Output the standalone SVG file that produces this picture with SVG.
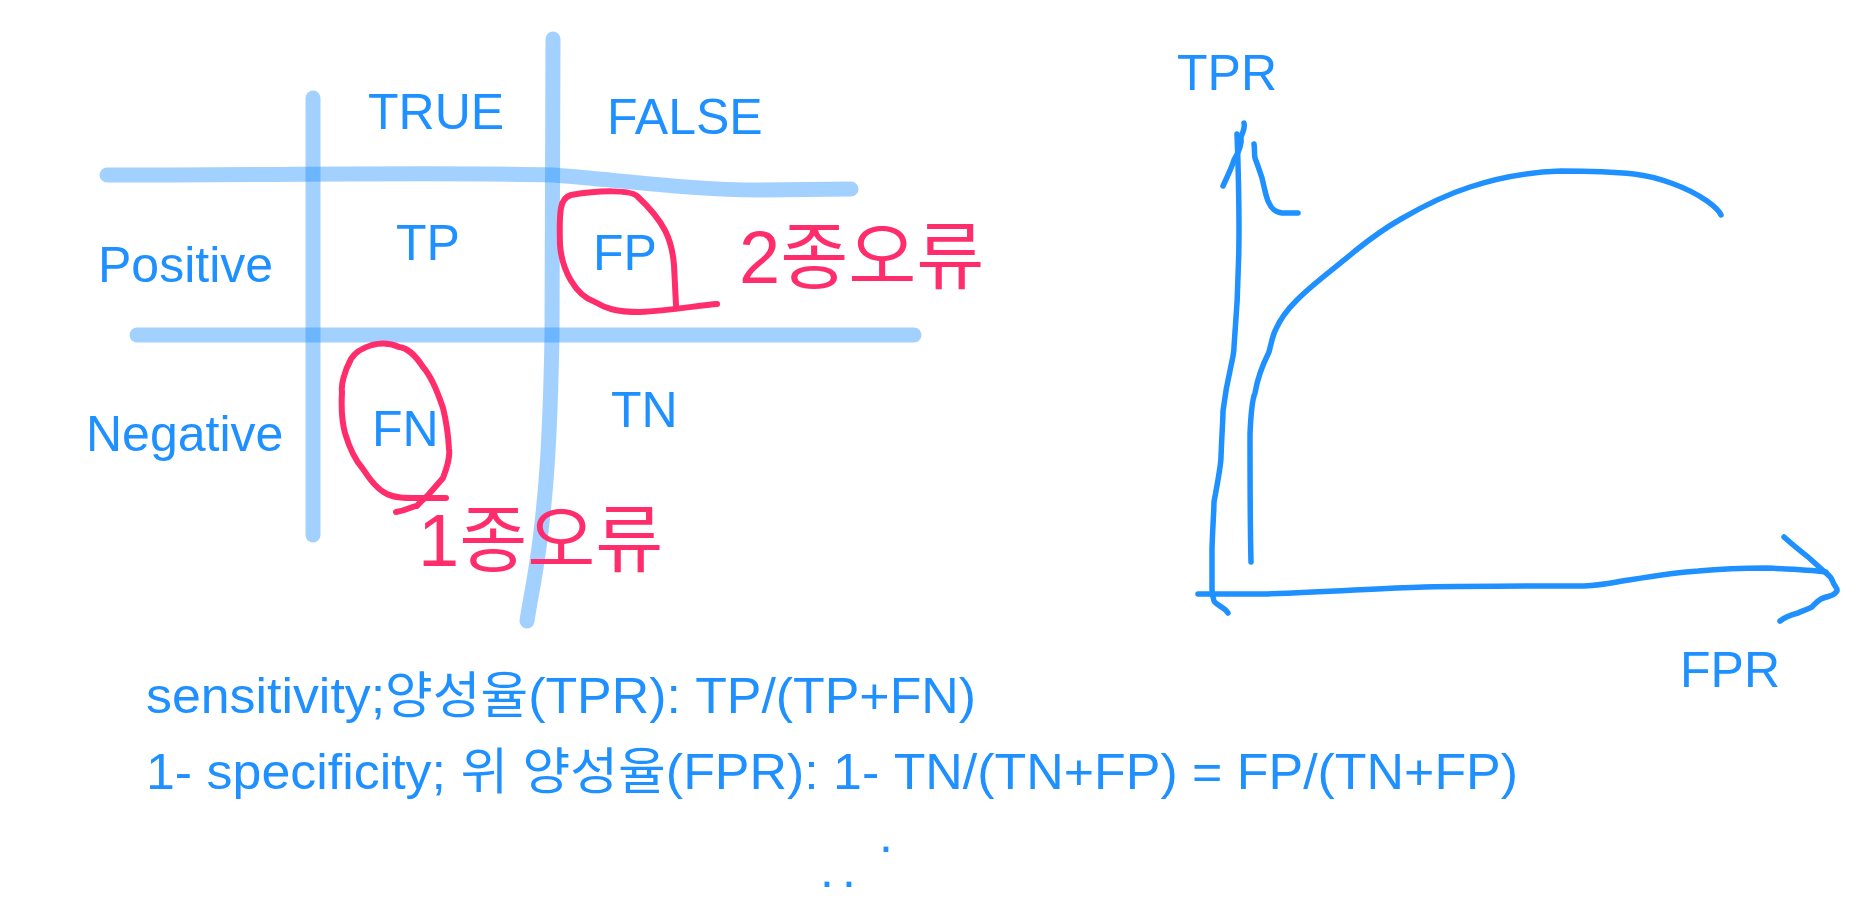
<svg xmlns="http://www.w3.org/2000/svg" width="1866" height="898" viewBox="0 0 1866 898">
<style>
.grid{fill:none;stroke:#1e90ff;stroke-opacity:0.41;stroke-width:15;stroke-linecap:round;stroke-linejoin:round}
.ink{fill:none;stroke:#1e90ff;stroke-width:5.5;stroke-linecap:round;stroke-linejoin:round}
.pink{fill:none;stroke:#ff2d6b;stroke-width:6;stroke-linecap:round;stroke-linejoin:round}
.t{font-family:"Liberation Sans","Noto Sans CJK KR",sans-serif;font-size:50px;fill:#1e90ff}
.p{font-family:"Liberation Sans","Noto Sans CJK KR",sans-serif;font-size:74px;fill:#ff2d6b}
</style>
<rect width="1866" height="898" fill="#ffffff"/>
<g id="connectors">
  <path class="grid" d="M313,98 L313,535"/>
  <path class="grid" d="M553,39 C553,200 553,300 552,335 C550,450 545,500 540,540 C535,580 530,600 527,621"/>
  <path class="grid" d="M107,175 C300,175 450,172 553,175 C620,180 690,190 760,190 L851,189"/>
  <path class="grid" d="M137,335 L914,335"/>
  <path class="pink" d="M676,305 L674,265 C672,240 665,222 637,196 C630,190 600,190 571,195 C560,198 559,210 560,245 C562,270 575,295 595,302 C605,308 615,312 640,312 C670,311 700,305 717,304"/>
  <path class="pink" d="M396,512 C408,510 415,505 417,506 C420,502 425,498 429,494 C436,486 443,478 443,478 C448,465 450,455 449,449 C448,430 446,420 443,408 C437,390 430,375 423,367 C415,355 408,348 399,347 C390,343 380,343 372,345 C362,348 355,352 351,359 C344,372 341,385 342,392 C341,410 342,422 345,433 C350,450 355,460 363,469 C370,480 378,490 387,494 C395,498 405,498 417,498 L446,498"/>
  <path class="ink" d="M1228,613 C1224,607 1216,605 1214,601 C1212,595 1212,589 1212,589 C1212,570 1212,555 1212,548 C1213,520 1214,510 1214,502 C1218,480 1221,465 1221,457 C1222,430 1223,420 1223,411 C1228,370 1234,360 1234,347 C1238,300 1239,260 1239,228 C1239,190 1238,160 1237,134"/>
  <path class="ink" d="M1223,186 C1228,175 1232,167 1234,160 C1240,150 1242,143 1241,137 C1244,130 1245,126 1244,123"/>
  <path class="ink" d="M1254,144 C1255,150 1254,154 1255,158 C1258,166 1260,172 1262,178 C1265,190 1266,198 1269,203 C1272,210 1276,212 1282,213 L1298,213"/>
  <path class="ink" d="M1198,594 L1264,594 C1330,592 1380,588 1424,587 C1480,586 1540,586 1584,586 C1605,585 1615,582 1629,580 C1660,575 1680,572 1698,571 C1730,568 1750,568 1766,568 C1790,569 1810,570 1826,572"/>
  <path class="ink" d="M1784,537 C1795,547 1802,552 1808,557 C1815,563 1820,568 1826,573 C1830,576 1832,579 1833,582 C1834,586 1838,588 1837,591 C1835,594 1833,595 1830,596 C1826,597 1823,598 1821,599 C1817,601 1815,604 1812,607 C1806,610 1802,611 1798,613 C1790,615 1785,617 1780,621"/>
  <path class="ink" d="M1251,562 C1250,520 1250,470 1250,434 C1251,410 1252,400 1255,393 C1258,375 1264,362 1269,352 C1272,340 1273,334 1276,329 C1282,315 1290,307 1296,301 C1310,286 1335,268 1355,251 C1370,239 1385,228 1401,219 C1425,205 1445,195 1470,187 C1500,177 1530,172 1561,171 C1590,171 1615,172 1634,174 C1650,176 1660,179 1671,183 C1685,188 1697,194 1707,201 C1714,206 1719,210 1721,215"/>
</g>
<g id="node-true"><text class="t" x="368" y="129">TRUE</text></g>
<g id="node-false"><text class="t" x="607" y="134">FALSE</text></g>
<g id="node-positive"><text class="t" x="98" y="282">Positive</text></g>
<g id="node-negative"><text class="t" x="86" y="451">Negative</text></g>
<g id="node-tp"><text class="t" x="396" y="260">TP</text></g>
<g id="node-fp"><text class="t" x="593" y="270">FP</text></g>
<g id="node-fn"><text class="t" x="372" y="446">FN</text></g>
<g id="node-tn"><text class="t" x="611" y="427">TN</text></g>
<g id="node-type2"><text class="p" x="739" y="283">2종오류</text></g>
<g id="node-type1"><text class="p" x="418" y="566">1종오류</text></g>
<g id="node-tpr"><text class="t" x="1177" y="90">TPR</text></g>
<g id="node-fpr"><text class="t" x="1680" y="687">FPR</text></g>
<g id="node-formula1"><text class="t" x="146" y="713" textLength="830" lengthAdjust="spacingAndGlyphs">sensitivity;양성율(TPR): TP/(TP+FN)</text></g>
<g id="node-formula2"><text class="t" x="146" y="789" textLength="1372" lengthAdjust="spacingAndGlyphs">1- specificity; 위 양성율(FPR): 1- TN/(TN+FP) = FP/(TN+FP)</text></g>
<g id="node-dots">
  <text class="t" x="879" y="852">.</text>
  <text class="t" x="820" y="887" letter-spacing="8">..</text>
</g>
</svg>
